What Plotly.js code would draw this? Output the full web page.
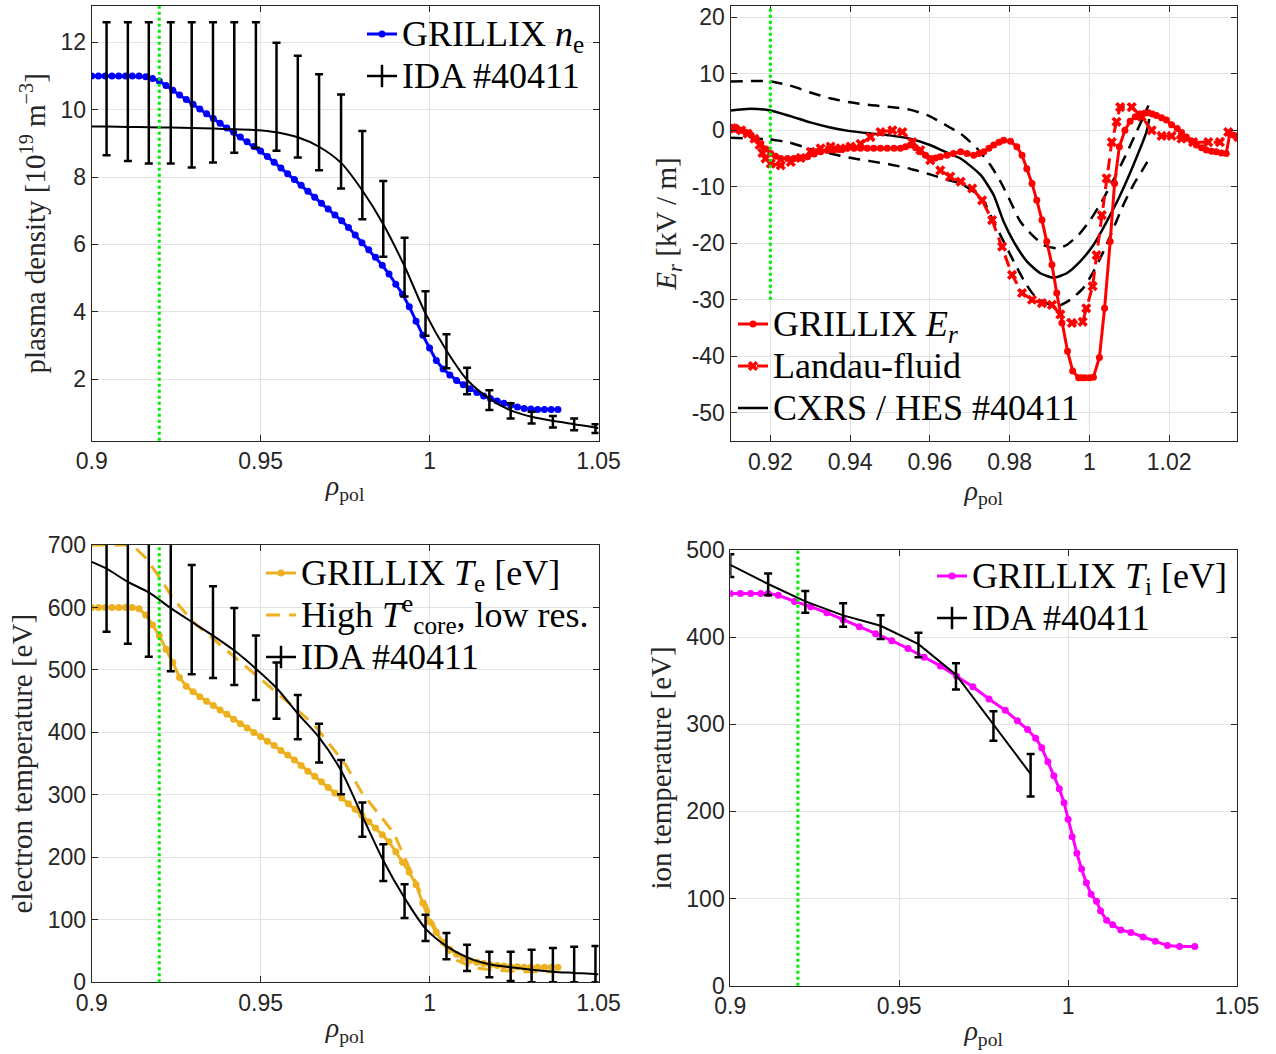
<!DOCTYPE html>
<html><head><meta charset="utf-8">
<script src="https://cdn.plot.ly/plotly-3.0.1.min.js"></script>
<style>html,body{margin:0;padding:0;background:#fff}#chart{width:1276px;height:1054px}</style>
</head><body><div id="chart"></div>
<script>
// ---------- reference positions ----------
const rhoMarker = 0.92;      // green dotted line
const rhoSep = 1.0;          // grey dash-dot line (Er panel)
const rhoMarkerErBottom = -30;

// ---------- Panel 1: density ----------
const neRho = [0.900,0.902,0.904,0.906,0.908,0.910,0.912,0.914,0.916,0.918,0.920,0.922,0.924,0.926,0.928,0.930,0.932,0.934,0.936,0.938,0.940,0.942,0.944,0.946,0.948,0.950,0.952,0.954,0.956,0.958,0.960,0.962,0.964,0.966,0.968,0.970,0.972,0.974,0.976,0.978,0.980,0.982,0.984,0.986,0.988,0.990,0.992,0.994,0.996,0.998,1.000,1.002,1.004,1.006,1.008,1.010,1.012,1.014,1.016,1.018,1.020,1.022,1.024,1.026,1.028,1.030,1.032,1.034,1.036,1.038];
const neGrillix = [11.0,11.0,11.0,11.0,11.0,11.0,11.0,11.0,10.98,10.93,10.85,10.72,10.58,10.44,10.30,10.16,10.02,9.88,9.74,9.60,9.46,9.33,9.19,9.05,8.91,8.77,8.61,8.44,8.27,8.10,7.93,7.76,7.58,7.40,7.22,7.05,6.87,6.70,6.50,6.28,6.05,5.84,5.62,5.38,5.12,4.82,4.52,4.15,3.72,3.30,2.92,2.55,2.30,2.12,1.96,1.83,1.71,1.60,1.50,1.42,1.35,1.28,1.22,1.17,1.13,1.11,1.10,1.10,1.10,1.10];
const idaNeRho = [0.900,0.9044,0.9107,0.9169,0.9234,0.9296,0.9359,0.9422,0.9486,0.9547,0.9610,0.9673,0.9738,0.9801,0.9863,0.9926,0.9988,1.0050,1.0111,1.0177,1.0240,1.0302,1.0365,1.0428,1.0491,1.050];
const idaNe = [9.50,9.50,9.49,9.48,9.47,9.46,9.44,9.42,9.40,9.33,9.18,8.90,8.42,7.60,6.60,5.35,3.95,2.85,1.98,1.42,1.07,0.88,0.76,0.66,0.56,0.54];
const idaNeUpper = [null,12.6,12.6,12.6,12.6,12.6,12.6,12.6,12.6,11.99,11.6,11.05,10.45,9.37,7.88,6.2,4.61,3.33,2.34,1.67,1.28,1.03,0.90,0.83,0.66,null];
const idaNeLower = [null,8.65,8.48,8.40,8.40,8.28,8.43,8.72,8.87,8.78,8.58,8.20,7.66,6.75,5.63,4.45,3.29,2.32,1.55,1.08,0.83,0.68,0.56,0.48,0.40,null];

// ---------- Panel 2: radial electric field ----------
const erRho = [0.9104,0.9115,0.9127,0.9140,0.9152,0.9165,0.9176,0.9189,0.9201,0.9213,0.9226,0.9243,0.9259,0.9276,0.9293,0.9310,0.9326,0.9343,0.9359,0.9376,0.9393,0.9410,0.9426,0.9443,0.9459,0.9476,0.9493,0.9510,0.9526,0.9539,0.9551,0.9564,0.9576,0.9589,0.9601,0.9614,0.9626,0.9643,0.9659,0.9677,0.9693,0.9710,0.9723,0.9735,0.9748,0.9760,0.9773,0.9785,0.9802,0.9818,0.9831,0.9843,0.9856,0.9868,0.9881,0.9893,0.9906,0.9918,0.9931,0.9945,0.9958,0.9973,0.9981,0.9989,1.0000,1.0010,1.0025,1.0038,1.0052,1.0063,1.0075,1.0089,1.0102,1.0115,1.0127,1.0138,1.0148,1.0158,1.0168,1.0181,1.0193,1.0206,1.0220,1.0231,1.0243,1.0256,1.0268,1.0281,1.0293,1.0306,1.0318,1.0331,1.0343,1.0352,1.0362,1.0373];
const erGrillix = [0.4,0.25,0.0,-0.4,-0.9,-1.6,-2.4,-3.3,-4.1,-4.6,-5.0,-5.0,-5.0,-4.9,-4.7,-4.2,-3.8,-3.6,-3.5,-3.4,-3.2,-3.2,-3.2,-3.2,-3.2,-3.2,-3.2,-3.2,-3.2,-2.9,-2.6,-3.1,-3.8,-4.4,-5.0,-4.9,-4.7,-4.4,-4.1,-3.8,-4.1,-4.4,-4.1,-3.8,-3.2,-2.6,-2.1,-1.76,-1.94,-2.9,-4.4,-6.8,-9.4,-12.4,-15.9,-19.7,-23.8,-28.8,-34.1,-39.1,-42.6,-43.8,-43.8,-43.8,-43.8,-43.7,-40.2,-31.5,-19.7,-9.4,-2.9,0.0,1.6,2.4,2.9,3.0,3.1,2.9,2.6,2.2,1.8,1.0,0.3,-0.4,-1.2,-1.9,-2.6,-3.1,-3.5,-3.7,-3.8,-4.0,-4.1,-0.6,-0.9,-1.2];
const lfRho = [0.9104,0.9110,0.9127,0.9143,0.9160,0.9173,0.9180,0.9188,0.9201,0.9226,0.9251,0.9276,0.9301,0.9326,0.9351,0.9376,0.9401,0.9426,0.9451,0.9476,0.9506,0.9531,0.9556,0.9576,0.9601,0.9626,0.9651,0.9677,0.9706,0.9731,0.9756,0.9781,0.9806,0.9831,0.9856,0.9881,0.9906,0.9927,0.9956,0.9983,0.9992,1.0008,1.0018,1.0031,1.0043,1.0056,1.0068,1.0077,1.0106,1.0131,1.0156,1.0181,1.0206,1.0231,1.0260,1.0298,1.0327,1.0348,1.0373];
const erLandau = [0.4,0.3,0.0,-0.6,-1.5,-2.6,-4.0,-5.0,-5.9,-6.2,-5.6,-4.9,-3.8,-3.2,-2.9,-3.2,-2.9,-2.4,-1.2,-0.3,0.0,-0.3,-2.1,-3.5,-5.3,-7.1,-8.2,-9.1,-10.3,-12.4,-15.9,-20.6,-25.6,-28.8,-30.0,-30.6,-30.9,-32.6,-34.1,-33.9,-31.5,-27.6,-22.1,-15.0,-8.5,-2.1,1.5,4.1,4.1,2.4,0.0,-1.0,-1.0,-1.5,-2.1,-2.1,-2.1,-0.3,-1.2];
const cxrsRho = [0.910,0.915,0.920,0.925,0.930,0.935,0.940,0.945,0.950,0.955,0.960,0.965,0.9677,0.9727,0.976,0.9785,0.981,0.9843,0.9877,0.991,0.9943,0.9977,1.001,1.0043,1.0077,1.011,1.0143,1.015];
const erCxrs = [3.5,3.8,3.5,2.5,1.4,0.5,-0.15,-0.55,-0.9,-1.5,-2.6,-4.2,-5.0,-7.9,-11.5,-16.2,-19.7,-23.2,-25.3,-26.1,-25.3,-23.2,-20.3,-16.2,-11.5,-6.2,-0.3,2.0];
const cxrsUpRho = [0.910,0.920,0.925,0.930,0.935,0.940,0.945,0.950,0.955,0.960,0.965,0.9677,0.9718,0.9752,0.9777,0.9802,0.9827,0.9856,0.9885,0.9918,0.9943,0.9973,1.0002,1.0031,1.006,1.0089,1.0118,1.0148];
const erCxrsUpper = [8.65,8.65,7.9,6.7,5.66,4.95,4.48,4.13,3.66,2.48,0.5,-0.6,-3.2,-6.2,-9.1,-12.6,-16.2,-18.5,-20.3,-20.9,-20.3,-18.5,-15.9,-12.6,-8.8,-4.7,-0.3,4.4];
const cxrsLoRho = [0.910,0.920,0.925,0.930,0.935,0.940,0.945,0.950,0.955,0.960,0.965,0.9677,0.971,0.9735,0.976,0.9785,0.981,0.9835,0.986,0.9893,0.9918,0.9952,0.9985,1.001,1.0035,1.006,1.0085,1.011,1.0135,1.015];
const erCxrsLower = [-1.34,-1.63,-2.2,-3.3,-4.1,-4.87,-5.46,-6.04,-6.8,-7.8,-8.9,-9.4,-10.9,-12.6,-16.2,-19.7,-23.2,-26.5,-29.1,-30.6,-31.2,-30.0,-27.9,-25.0,-21.5,-17.4,-13.2,-9.7,-6.8,-5.0];

// ---------- Panel 3: electron temperature ----------
const teRho = [0.900,0.902,0.904,0.906,0.908,0.910,0.912,0.914,0.916,0.918,0.920,0.922,0.924,0.926,0.928,0.930,0.932,0.934,0.936,0.938,0.940,0.942,0.944,0.946,0.948,0.950,0.952,0.954,0.956,0.958,0.960,0.962,0.964,0.966,0.968,0.970,0.972,0.974,0.976,0.978,0.980,0.982,0.984,0.986,0.988,0.990,0.992,0.994,0.996,0.998,1.000,1.002,1.004,1.006,1.008,1.010,1.012,1.014,1.016,1.018,1.020,1.022,1.024,1.026,1.028,1.030,1.032,1.034,1.036,1.038];
const teGrillix = [600,600,600,600,600,600,600,598,588,572,555,533,512,488,474,465,457,450,443,436,429,421,414,407,400,393,386,379,371,364,356,347,338,330,321,312,303,295,286,277,267,257,247,236,225,209,192,176,156,127,97,80,64,53,45,39,35,32,30,28,27,26,25,25,24,24,24,24,24,24];
const teHighRho = [0.900,0.912,0.9157,0.9205,0.924,0.930,0.9359,0.9419,0.9478,0.9538,0.9597,0.9657,0.9704,0.9752,0.9799,0.9847,0.9894,0.993,0.9966,0.999,1.0013,1.0037,1.0073,1.0132,1.0204,1.0275,1.0376];
const teHighCore = [700,700,681,645,615,577,550,522,495,468,441,413,381,348,304,271,239,195,151,124,91,64,37,23,19,17,17];
const idaTeRho = [0.900,0.9044,0.9107,0.9169,0.9234,0.9296,0.9359,0.9422,0.9486,0.9547,0.9610,0.9673,0.9738,0.9801,0.9863,0.9926,0.9988,1.0050,1.0111,1.0177,1.0240,1.0302,1.0365,1.0428,1.0491,1.050];
const idaTe = [673,662,641,624,599,577,555,531,502,471,430,392,339,266,195,135,86,58,40,29,24,20,17,15,13,13];
const idaTeUpper = [null,760,760,760,760,668,634,599,555,512,460,414,356,288,221,157,108,79,60,49,49,52,55,57,58,null];
const idaTeLower = [null,561,542,521,498,493,487,476,452,422,389,352,301,233,162,103,66,37,18,8,2,0,0,0,0,null];

// ---------- Panel 4: ion temperature ----------
const tiRho = [0.900,0.903,0.906,0.909,0.9112,0.9142,0.919,0.9238,0.9286,0.9334,0.9382,0.943,0.9478,0.9526,0.9574,0.9622,0.967,0.9718,0.9766,0.9814,0.985,0.988,0.9904,0.9922,0.994,0.9958,0.9974,0.9988,1.000,1.0012,1.0026,1.004,1.0054,1.0068,1.0084,1.0096,1.0114,1.0132,1.0156,1.0186,1.0222,1.0258,1.0294,1.033,1.0375];
const tiGrillix = [450,450,450,450,450,448,441,435,428,420,412,404,396,387,377,367,355,343,329,316,304,294,284,273,257,241,226,210,191,171,152,134,118,105,97,86,75,70,64,61,56,51,46,45,45];
const idaTiRho = [0.900,0.9112,0.9222,0.9334,0.9445,0.9557,0.9668,0.9779,0.9889];
const idaTi = [483,461,441,425,413,392,357,300,243];
const idaTiUpper = [495,473,453,439,425,405,370,315,266];
const idaTiLower = [469,448,428,412,398,377,340,281,217];

// ---------- legend labels ----------
const labNe = 'GRILLIX <i>n</i><sub>e</sub>';
const labEr = 'GRILLIX <i>E<sub>r</sub></i>';
const labLandau = 'Landau-fluid';
const labCxrs = 'CXRS / HES #40411';
const labTe = 'GRILLIX <i>T</i><sub>e</sub> [eV]';
const labTeHigh = 'High <i>T</i><sup>e</sup><sub>core</sub>, low res.';
const labTi = 'GRILLIX <i>T</i><sub>i</sub> [eV]';
const labIda = 'IDA #40411';

// ---------- styling ----------
const C_BLUE = '#0000ff', C_RED = '#ff0000', C_ORANGE = '#EDB120', C_MAG = '#ff00ff', C_GREEN = '#00f000', C_AX = '#262626';
const SERIF = 'Liberation Serif, Times New Roman, serif';
const SANS = 'Liberation Sans, Arial, sans-serif';
const big = s => '<span style="font-size:36px">' + s + '</span>';

function errUp(up, mid) { return up.map((u, i) => (u == null ? NaN : u - mid[i])); }
function errDn(lo, mid) { return lo.map((l, i) => (l == null ? NaN : mid[i] - l)); }
function errBars(up, lo, mid) {
  return {type: 'data', symmetric: false, array: errUp(up, mid), arrayminus: errDn(lo, mid),
          color: '#000', thickness: 2.5, width: 4, visible: true};
}
// legend-only entry showing a line crossed by an error bar (no data, draws nothing in the plot)
function idaKey(xa, ya, leg) {
  return {x: [null], y: [null], xaxis: xa, yaxis: ya, mode: 'lines+markers', name: big(labIda), legend: leg,
    line: {color: '#000', width: 2.5}, marker: {symbol: 'line-ns-open', size: 16, color: '#000', line: {color: '#000', width: 2.5}}};
}

const traces = [
  // panel 1
  {x: neRho, y: neGrillix, xaxis: 'x', yaxis: 'y', mode: 'lines+markers', name: big(labNe),
   line: {color: C_BLUE, width: 3}, marker: {color: C_BLUE, size: 7}, legend: 'legend'},
  {x: idaNeRho, y: idaNe, xaxis: 'x', yaxis: 'y', mode: 'lines', showlegend: false,
   line: {color: '#000', width: 2, shape: 'spline', smoothing: 0.8}, error_y: errBars(idaNeUpper, idaNeLower, idaNe)},
  idaKey('x', 'y', 'legend'),
  // panel 2
  {x: cxrsUpRho, y: erCxrsUpper, xaxis: 'x2', yaxis: 'y2', mode: 'lines', showlegend: false,
   line: {color: '#000', width: 2.5, dash: '12px,8px', shape: 'spline', smoothing: 0.6}},
  {x: cxrsLoRho, y: erCxrsLower, xaxis: 'x2', yaxis: 'y2', mode: 'lines', showlegend: false,
   line: {color: '#000', width: 2.5, dash: '12px,8px', shape: 'spline', smoothing: 0.6}},
  {x: cxrsRho, y: erCxrs, xaxis: 'x2', yaxis: 'y2', mode: 'lines', name: big(labCxrs),
   line: {color: '#000', width: 2.5, shape: 'spline', smoothing: 0.6}, legend: 'legend2', legendrank: 3},
  {x: lfRho, y: erLandau, xaxis: 'x2', yaxis: 'y2', mode: 'lines+markers', name: big(labLandau),
   line: {color: C_RED, width: 3, dash: '12px,7px'}, marker: {color: C_RED, size: 9, symbol: 'x'}, legend: 'legend2', legendrank: 2},
  {x: erRho, y: erGrillix, xaxis: 'x2', yaxis: 'y2', mode: 'lines+markers', name: big(labEr),
   line: {color: C_RED, width: 3}, marker: {color: C_RED, size: 7}, legend: 'legend2', legendrank: 1},
  // panel 3
  {x: teRho, y: teGrillix, xaxis: 'x3', yaxis: 'y3', mode: 'lines+markers', name: big(labTe),
   line: {color: C_ORANGE, width: 3}, marker: {color: C_ORANGE, size: 7}, legend: 'legend3'},
  {x: teHighRho, y: teHighCore, xaxis: 'x3', yaxis: 'y3', mode: 'lines', name: big(labTeHigh),
   line: {color: C_ORANGE, width: 3, dash: '14px,9px'}, legend: 'legend3'},
  {x: idaTeRho, y: idaTe, xaxis: 'x3', yaxis: 'y3', mode: 'lines', showlegend: false,
   line: {color: '#000', width: 2, shape: 'spline', smoothing: 0.8}, error_y: errBars(idaTeUpper, idaTeLower, idaTe)},
  idaKey('x3', 'y3', 'legend3'),
  // panel 4
  {x: tiRho, y: tiGrillix, xaxis: 'x4', yaxis: 'y4', mode: 'lines+markers', name: big(labTi),
   line: {color: C_MAG, width: 3}, marker: {color: C_MAG, size: 7}, legend: 'legend4'},
  {x: idaTiRho, y: idaTi, xaxis: 'x4', yaxis: 'y4', mode: 'lines', showlegend: false,
   line: {color: '#000', width: 2}, error_y: errBars(idaTiUpper, idaTiLower, idaTi)},
  idaKey('x4', 'y4', 'legend4')
];

function axis(extra) {
  return Object.assign({
    showline: true, linecolor: C_AX, linewidth: 1, mirror: 'ticks',
    ticks: 'inside', ticklen: 6, tickwidth: 1, tickcolor: C_AX,
    showgrid: true, gridcolor: '#e2e2e2', gridwidth: 1, zeroline: false,
    tickfont: {family: SANS, size: 23, color: C_AX}, automargin: false, fixedrange: true
  }, extra);
}
const rhoTitle = {text: '<i>ρ</i><sub>pol</sub>', font: {family: SERIF, size: 28, color: C_AX}, standoff: 2};
function ytitle(t) { return {text: t, font: {family: SERIF, size: 29, color: C_AX}, standoff: 6}; }

const xTicks1 = [0.9, 0.95, 1, 1.05], xText1 = ['0.9', '0.95', '1', '1.05'];
const xTicks2 = [0.92, 0.94, 0.96, 0.98, 1, 1.02], xText2 = ['0.92', '0.94', '0.96', '0.98', '1', '1.02'];
const yTicksNe = [2, 4, 6, 8, 10, 12];
const yTicksEr = [-50, -40, -30, -20, -10, 0, 10, 20], yTextEr = ['-50', '-40', '-30', '-20', '-10', '0', '10', '20'];
const yTicksTe = [0, 100, 200, 300, 400, 500, 600, 700];
const yTicksTi = [0, 100, 200, 300, 400, 500];

const W = 1276, H = 1054;
const dom = (a, b, n) => [a / n, b / n];
const ydom = (top, bot) => [1 - bot / H, 1 - top / H];

const legendBase = {bgcolor: 'rgba(0,0,0,0)', borderwidth: 0, font: {family: SERIF, size: 30, color: '#000'},
  itemwidth: 30, tracegroupgap: 0, itemclick: false, itemdoubleclick: false};

const layout = {
  width: W, height: H, margin: {l: 0, r: 0, t: 0, b: 0}, paper_bgcolor: '#fff', plot_bgcolor: '#fff',
  showlegend: true,
  xaxis: axis({domain: dom(91.7, 598.5, W), range: [0.9, 1.05], tickvals: xTicks1, ticktext: xText1, anchor: 'y', title: rhoTitle}),
  yaxis: axis({domain: ydom(6, 440.7), range: [0.17, 13.08], tickvals: yTicksNe, anchor: 'x',
    title: ytitle('plasma density [10<sup>19</sup> m<sup>−3</sup>]')}),
  xaxis2: axis({domain: dom(730.5, 1237, W), range: [0.91, 1.037], tickvals: xTicks2, ticktext: xText2, anchor: 'y2', title: rhoTitle}),
  yaxis2: axis({domain: ydom(6, 441), range: [-55, 22], tickvals: yTicksEr, ticktext: yTextEr, anchor: 'x2',
    title: ytitle('<i>E<sub>r</sub></i> [kV / m]')}),
  xaxis3: axis({domain: dom(91.7, 598.5, W), range: [0.9, 1.05], tickvals: xTicks1, ticktext: xText1, anchor: 'y3', title: rhoTitle}),
  yaxis3: axis({domain: ydom(545, 982.3), range: [0, 700], tickvals: yTicksTe, anchor: 'x3',
    title: ytitle('electron temperature [eV]')}),
  xaxis4: axis({domain: dom(730.3, 1237, W), range: [0.9, 1.05], tickvals: xTicks1, ticktext: xText1, anchor: 'y4', title: rhoTitle}),
  yaxis4: axis({domain: ydom(550, 985.7), range: [0, 500], tickvals: yTicksTi, anchor: 'x4',
    title: ytitle('ion temperature [eV]')}),
  legend: Object.assign({}, legendBase, {x: 590 / W, xanchor: 'right', y: 1 - 8 / H, yanchor: 'top'}),
  legend2: Object.assign({}, legendBase, {x: 733 / W, xanchor: 'left', y: 1 - 434 / H, yanchor: 'bottom'}),
  legend3: Object.assign({}, legendBase, {x: 594 / W, xanchor: 'right', y: 1 - 547 / H, yanchor: 'top'}),
  legend4: Object.assign({}, legendBase, {x: 1232 / W, xanchor: 'right', y: 1 - 550 / H, yanchor: 'top'}),
  shapes: [
    {type: 'line', xref: 'x', yref: 'y domain', x0: rhoMarker, x1: rhoMarker, y0: 0, y1: 1, layer: 'above',
     line: {color: C_GREEN, width: 3, dash: 'dot'}},
    {type: 'line', xref: 'x2', yref: 'y2', x0: rhoSep, x1: rhoSep, y0: -55, y1: 22, layer: 'below',
     line: {color: '#9a9a9a', width: 1, dash: 'dashdot'}},
    {type: 'line', xref: 'x2', yref: 'y2', x0: rhoMarker, x1: rhoMarker, y0: rhoMarkerErBottom, y1: 22, layer: 'above',
     line: {color: C_GREEN, width: 3, dash: 'dot'}},
    {type: 'line', xref: 'x3', yref: 'y3 domain', x0: rhoMarker, x1: rhoMarker, y0: 0, y1: 1, layer: 'above',
     line: {color: C_GREEN, width: 3, dash: 'dot'}},
    {type: 'line', xref: 'x4', yref: 'y4 domain', x0: rhoMarker, x1: rhoMarker, y0: 0, y1: 1, layer: 'above',
     line: {color: C_GREEN, width: 3, dash: 'dot'}}
  ]
};

Plotly.newPlot('chart', traces, layout, {staticPlot: true, displayModeBar: false});
</script></body></html>
